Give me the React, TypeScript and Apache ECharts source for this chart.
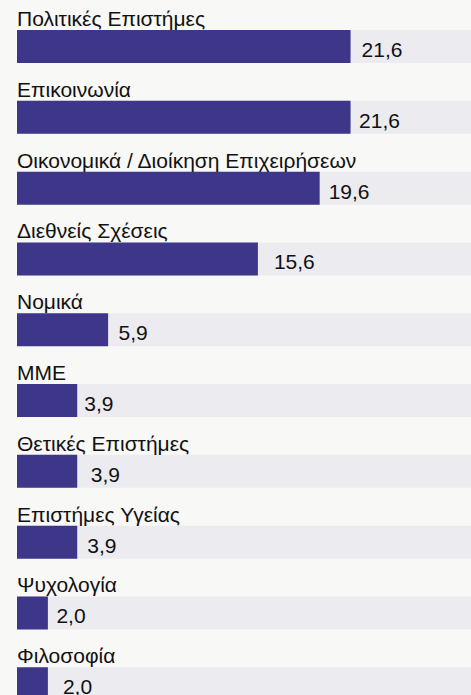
import React, { useEffect, useRef } from "react";
import * as echarts from "echarts";

const categories = [
  "Πολιτικές Επιστήμες",
  "Επικοινωνία",
  "Οικονομικά / Διοίκηση Επιχειρήσεων",
  "Διεθνείς Σχέσεις",
  "Νομικά",
  "ΜΜΕ",
  "Θετικές Επιστήμες",
  "Επιστήμες Υγείας",
  "Ψυχολογία",
  "Φιλοσοφία",
];

const values = [21.6, 21.6, 19.6, 15.6, 5.9, 3.9, 3.9, 3.9, 2.0, 2.0];

const axisMax = 29.4;

// style: per-row gap between bar end and its value label (px)
const labelGaps = [11, 8.5, 9, 16, 10.5, 7, 13.5, 10, 8.5, 15];

const FONT = "Arial, 'Liberation Sans', Helvetica, sans-serif";

export default function App() {
  const ref = useRef<HTMLDivElement>(null);

  useEffect(() => {
    if (!ref.current) return;
    const chart = echarts.init(ref.current, null, { renderer: "svg" });
    chart.setOption({
      animation: false,
      backgroundColor: "#f8f8f7",
      grid: { left: 17, right: 0, top: 11.1, height: 708.1, containLabel: false },
      xAxis: {
        type: "value",
        min: 0,
        max: axisMax,
        show: false,
      },
      yAxis: {
        type: "category",
        data: categories,
        inverse: true,
        show: false,
      },
      series: [
        {
          type: "bar",
          silent: true,
          barWidth: 33,
          barGap: "-100%",
          itemStyle: { color: "#ecebf0" },
          data: categories.map(() => axisMax),
          label: {
            show: true,
            position: [0, -1],
            align: "left",
            verticalAlign: "bottom",
            fontFamily: FONT,
            fontSize: 21,
            color: "#111111",
            formatter: (p: any) => categories[p.dataIndex],
          },
          z: 1,
        },
        {
          type: "bar",
          barWidth: 33,
          barGap: "-100%",
          itemStyle: { color: "#3e3688" },
          data: values.map((v, i) => ({
            value: v,
            label: { distance: labelGaps[i] },
          })),
          label: {
            show: true,
            position: "right",
            offset: [0, 3],
            fontFamily: FONT,
            fontSize: 21,
            color: "#111111",
            formatter: (p: any) => Number(p.value).toFixed(1).replace(".", ","),
          },
          z: 2,
        },
      ],
    });
    return () => chart.dispose();
  }, []);

  return (
    <div
      ref={ref}
      style={{ position: "absolute", left: 0, top: 0, width: 471, height: 740 }}
    />
  );
}
